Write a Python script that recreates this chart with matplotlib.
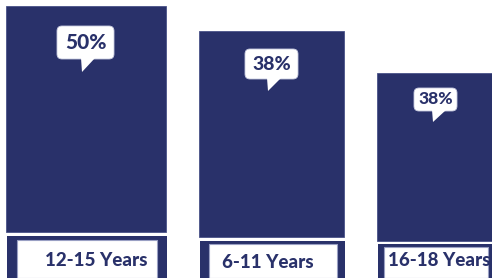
import matplotlib
matplotlib.use('Agg')
import matplotlib.pyplot as plt
from matplotlib.patches import FancyBboxPatch, Polygon, Rectangle

# 연령대별 비율 (인포그래픽 막대)
age_groups = ['12-15 Years', '6-11 Years', '16-18 Years']
percent = [50, 38, 38]
bar_heights = [226, 206, 168]   # 그림에서 읽은 막대 높이

navy = '#29316A'
plt.rcParams['font.family'] = ['Lato', 'DejaVu Sans']

fig = plt.figure(figsize=(4.92, 2.78), dpi=100)
ax = fig.add_axes([0, 0, 1, 1])
ax.set_xlim(0, 492)
ax.set_ylim(0, 278)
ax.axis('off')

# 막대 위치/폭, 바닥, 라벨 상자
x_left = [6, 199, 377]
widths = [160, 145, 118]
bottoms = [46, 41, 37]
frame_top = [42, 37, 34]
inner = [(17, 140, 38), (209, 128, 34), (384, 104, 31)]
label_x = [96, 268, 439]
label_y = [18, 16, 17]

centers = [x + w / 2 for x, w in zip(x_left, widths)]
ax.bar(centers, bar_heights, width=widths, bottom=bottoms, color=navy,
       edgecolor='#4a5288', linewidth=0.6)

# 말풍선 (위치, 크기)
bubbles = [(57, 219, 57, 33, 82, 206, 15), (245, 199, 53, 30, 268, 187, 14),
           (414, 167, 43, 23, 433, 156, 12.5)]

for i, (bx, by, bw, bh, tx, ty, fs) in enumerate(bubbles):
    box = FancyBboxPatch((bx, by), bw, bh, boxstyle='round,pad=0,rounding_size=5',
                         fc='white', ec='#c8cbe0', lw=0.6, zorder=3)
    ax.add_patch(box)
    tail = Polygon([(tx - 1, by + 1), (tx + 13, by + 1), (tx, ty)], closed=True,
                   fc='white', ec='none', zorder=4)
    ax.add_patch(tail)
    ax.text(bx + bw / 2, by + bh / 2, f'{percent[i]}%', ha='center', va='center',
            fontsize=fs, fontweight='black', color=navy, zorder=5)

for i, name in enumerate(age_groups):
    ax.add_patch(Rectangle((x_left[i] + 1, 0), widths[i], frame_top[i], fc=navy, ec='none'))
    ix, iw, ih = inner[i]
    ax.add_patch(Rectangle((ix, 0), iw, ih, fc='white', ec='#9aa0c4', lw=0.8, zorder=2))
    ax.text(label_x[i], label_y[i], name, ha='center', va='center', fontsize=13.5,
            fontweight='black', color=navy, zorder=3)

fig.savefig('out.png', dpi=100)
